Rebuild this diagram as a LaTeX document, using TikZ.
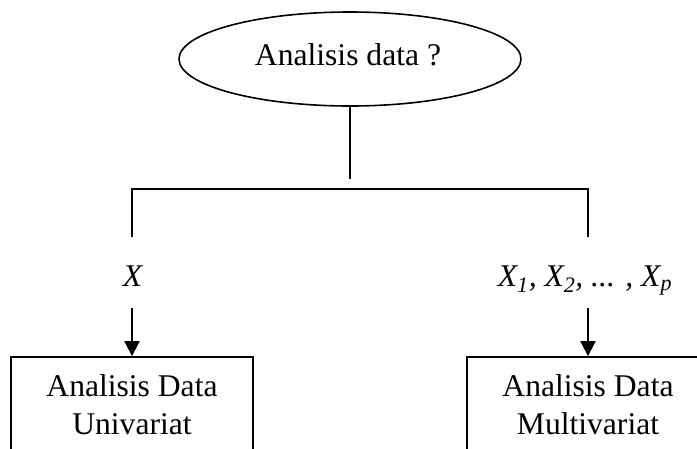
\documentclass[tikz,border=0pt]{standalone}
\usepackage{fontspec}
\setmainfont{Liberation Serif}
\usetikzlibrary{shapes.geometric,arrows.meta}

\tikzset{
  conn/.style={line width=1.8pt},
  arr/.style={conn, -{Triangle[length=15pt,width=15pt]}},
  oval/.style={ellipse, draw, line width=1.6pt, inner sep=0pt,
               minimum width=342pt, minimum height=94pt},
  resultbox/.style={rectangle, draw, line width=1.8pt, inner sep=0pt,
                    minimum width=242pt, minimum height=96pt, align=center},
  txt/.style={inner sep=0pt, anchor=base}
}

\begin{document}
\begin{tikzpicture}[x=1pt, y=-1pt, font=\fontsize{31.6}{38.3}\selectfont]
  \useasboundingbox (0,0) rectangle (697,448);
  \clip (0,0) rectangle (697,448);

  % question
  \node[oval] (q) at (350,59) {};
  \node[txt] (qt) at (348,65) {Analisis data ?};

  % branching bracket
  \coordinate (s)  at (350,179);
  \coordinate (bl) at (132,189);
  \coordinate (br) at (588,189);
  \coordinate (dl) at (132,237);
  \coordinate (dr) at (588,237);
  \draw[conn] (q.south) -- (s);
  \draw[conn] (dl) -- (bl) -- (br) -- (dr);

  % variables
  \node[txt] (lx)  at (133,286.7) {\textit{X}};
  \node[txt] (lxp) at (585,286.7)
        {\textit{X\textsubscript{1}, X\textsubscript{2}, ... , X\textsubscript{p}}};

  % results
  \node[resultbox] (uni)   at (132,405) {Analisis Data\\Univariat};
  \node[resultbox] (multi) at (588,405) {Analisis Data\\Multivariat};

  \coordinate (al) at (132,308);
  \coordinate (ar) at (588,308);
  \draw[arr] (al) -- (uni.north);
  \draw[arr] (ar) -- (multi.north);
\end{tikzpicture}
\end{document}
